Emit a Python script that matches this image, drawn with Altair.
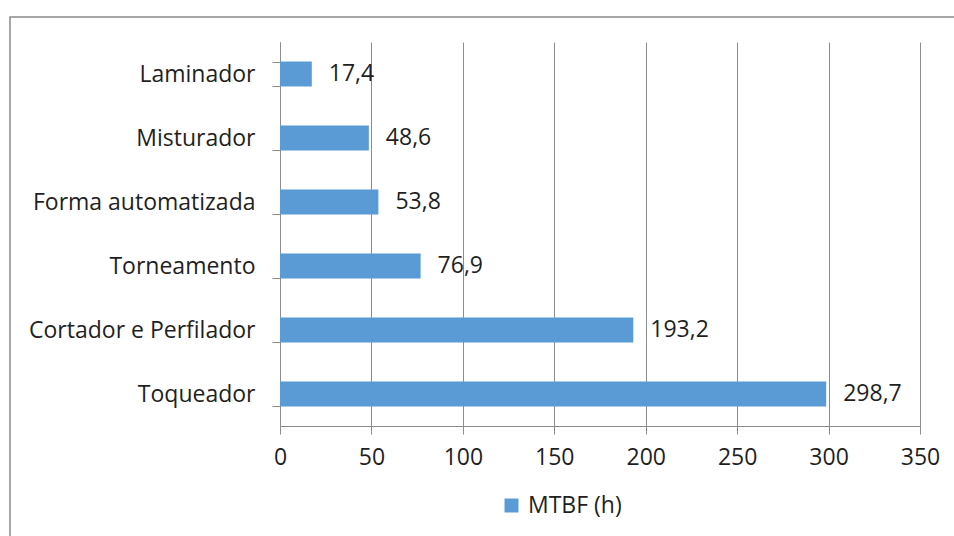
import altair as alt
import pandas as pd

# Equipment and their mean time between failures, in hours
equipamentos = ["Laminador", "Misturador", "Forma automatizada", "Torneamento",
                "Cortador e Perfilador", "Toqueador"]
mtbf_horas = [17.4, 48.6, 53.8, 76.9, 193.2, 298.7]
serie = "MTBF (h)"
x_ticks = [0, 50, 100, 150, 200, 250, 300, 350]

df = pd.DataFrame({
    "equipamento": equipamentos,
    "mtbf": mtbf_horas,
    "serie": [serie] * len(equipamentos),
})
df["rotulo"] = df["mtbf"].map(lambda v: f"{v:.1f}".replace(".", ","))

FONT = "Open Sans"
FS = 23
TEXT = "#1f1f1f"
GRID = "#8c8c8c"
BLUE = "#5B9BD5"

W, H = 640, 384
PAD_L, PAD_T = 280, 42

y_enc = alt.Y(
    "equipamento:N",
    sort=equipamentos,
    title=None,
    scale=alt.Scale(paddingInner=0.61, paddingOuter=0.305),
    axis=alt.Axis(
        tickBand="extent",
        tickSize=8,
        tickColor=GRID,
        domainColor=GRID,
        labelFont=FONT,
        labelFontSize=FS,
        labelColor=TEXT,
        labelPadding=17,
        labelLimit=400,
        grid=False,
    ),
)

x_enc = alt.X(
    "mtbf:Q",
    title=None,
    scale=alt.Scale(domain=[0, 350], nice=False),
    axis=alt.Axis(
        values=x_ticks,
        tickSize=8,
        tickColor=GRID,
        domainColor=GRID,
        grid=True,
        gridColor=GRID,
        gridOpacity=1,
        labelFont=FONT,
        labelFontSize=FS,
        labelColor=TEXT,
        labelPadding=12,
        labelFlush=False,
    ),
)

# Outer frame around the chart
frame = alt.Chart(pd.DataFrame({"k": [0]})).mark_rect(
    fill=None, stroke="#8a8a8a", strokeWidth=1.5
).encode(
    x=alt.value(10 - PAD_L),
    x2=alt.value(W + 100),
    y=alt.value(17 - PAD_T),
    y2=alt.value(H + 200),
)

bars = alt.Chart(df).mark_bar().encode(
    y=y_enc,
    x=x_enc,
    color=alt.Color(
        "serie:N",
        scale=alt.Scale(domain=[serie], range=[BLUE]),
        legend=alt.Legend(
            title=None,
            orient="none",
            legendX=220,
            legendY=452,
            symbolType="square",
            symbolSize=196,
            symbolStrokeWidth=0,
            labelFont=FONT,
            labelFontSize=FS,
            labelColor=TEXT,
            labelOffset=5,
            labelLimit=300,
        ),
    ),
)

labels = alt.Chart(df).mark_text(
    align="left", baseline="middle", dx=17, font=FONT, fontSize=FS, color=TEXT
).encode(
    y=alt.Y("equipamento:N", sort=equipamentos),
    x=alt.X("mtbf:Q"),
    text="rotulo:N",
)

chart = alt.layer(frame, bars, labels).properties(
    width=W,
    height=H,
    autosize=alt.AutoSizeParams(type="none"),
    padding={"left": PAD_L, "top": PAD_T, "right": 954 - PAD_L - W, "bottom": 536 - PAD_T - H},
    background="white",
).configure_view(stroke=None)

chart.save("out.html", embed_options={"renderer": "svg", "actions": False})
